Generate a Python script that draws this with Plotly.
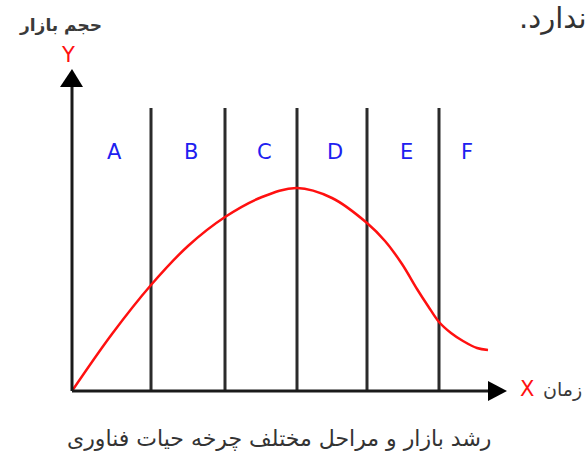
import plotly.graph_objects as go

# Technology life-cycle: market volume over time, split into stages A-F
stage_labels = ["A", "B", "C", "D", "E", "F"]
stage_bounds = [79, 153, 225, 295, 367]          # time at the end of each stage
time_end = 416                                    # last sampled time

curve_t = [0, 40, 79, 116, 153, 190, 225, 260, 295, 313, 330, 345, 356, 367, 379, 391, 405, 416]
curve_v = [0, 57, 106, 145, 174, 194, 203, 193, 168, 150, 127, 102, 85, 69, 58, 50, 43, 41]

axis_x_max = 435     # tip of the time axis
axis_y_max = 322     # tip of the volume axis
divider_top = 283    # height of the stage dividers

FONT = "DejaVu Sans"
RLM = "\u200f"

fig = go.Figure()

# stage dividers
for b in stage_bounds:
    fig.add_shape(type="line", x0=b, x1=b, y0=0, y1=divider_top,
                  line=dict(color="#2b2b2b", width=3), layer="below")

# axes
fig.add_shape(type="line", x0=0, x1=0, y0=0, y1=axis_y_max - 18,
              line=dict(color="#1a1a1a", width=3))
fig.add_shape(type="line", x0=0, x1=axis_x_max - 18, y0=0, y1=0,
              line=dict(color="#1a1a1a", width=3))
# arrow heads
fig.add_shape(type="path",
              path=f"M -12,{axis_y_max-18} L 11,{axis_y_max-18} L 0,{axis_y_max} Z",
              fillcolor="black", line=dict(width=0))
fig.add_shape(type="path",
              path=f"M {axis_x_max-19},-10 L {axis_x_max-19},10 L {axis_x_max},0 Z",
              fillcolor="black", line=dict(width=0))

# market volume curve
fig.add_trace(go.Scatter(x=curve_t, y=curve_v, mode="lines",
                         line=dict(color="#ff1010", width=2.5, shape="spline", smoothing=1.0),
                         hoverinfo="skip", showlegend=False))

# stage letters
edges = [0] + stage_bounds + [time_end]
for i, lab in enumerate(stage_labels):
    mid = (edges[i] + edges[i + 1]) / 2 + 3
    fig.add_annotation(x=mid, y=239, text=lab, showarrow=False,
                       font=dict(family=FONT, size=21, color="#2020f0"))

# axis titles
fig.add_annotation(x=-4, y=336, text="Y", showarrow=False,
                   font=dict(family=FONT, size=21, color="#ff1010"))
fig.add_annotation(x=-12, y=366, text="<b>حجم بازار</b>", showarrow=False,
                   font=dict(family=FONT, size=17, color="#3a3a3a"))
fig.add_annotation(x=455, y=2, text="X", showarrow=False,
                   font=dict(family=FONT, size=21, color="#ff1010"))
fig.add_annotation(x=512, y=2, text="زمان", showarrow=False, xanchor="right",
                   font=dict(family=FONT, size=19, color="#3a3a3a"))

# caption and surrounding text
fig.add_annotation(x=207, y=-47, text="رشد بازار و مراحل مختلف چرخه حیات فناوری",
                   showarrow=False, font=dict(family=FONT, size=22, color="#333333"))
fig.add_annotation(x=445, y=373, text=RLM + "ندارد." + RLM, showarrow=False, xanchor="left",
                   font=dict(family=FONT, size=29, color="#333333"))

fig.update_xaxes(range=[-72, 514], visible=False, fixedrange=True)
fig.update_yaxes(range=[-62, 391], visible=False, fixedrange=True)
fig.update_layout(width=586, height=453, margin=dict(l=0, r=0, t=0, b=0),
                  plot_bgcolor="white", paper_bgcolor="white")

fig.write_html("out.html")
